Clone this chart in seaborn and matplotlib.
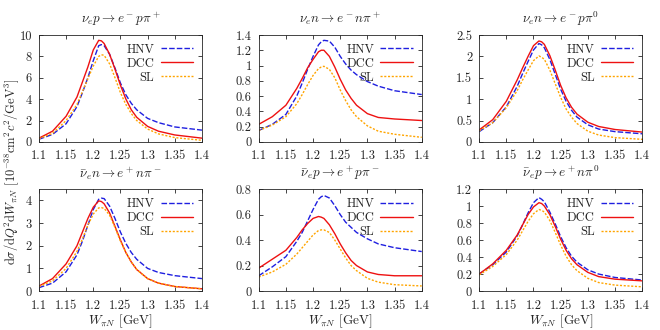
import numpy as np
import pandas as pd
import seaborn as sns
import matplotlib.pyplot as plt

W = [1.10, 1.125, 1.15, 1.17, 1.18, 1.19, 1.20, 1.21, 1.215, 1.22, 1.23, 1.24, 1.25, 1.26, 1.27, 1.28, 1.30, 1.32, 1.35, 1.40]

# nu_e p -> e- p pi+
dcc_1 = [0.35, 1.0, 2.4, 4.2, 5.6, 7.0, 8.6, 9.5, 9.45, 9.2, 8.2, 6.8, 5.3, 4.0, 3.0, 2.3, 1.45, 1.0, 0.65, 0.35]
hnv_1 = [0.25, 0.7, 1.7, 3.3, 4.6, 6.0, 7.6, 9.0, 9.1, 9.0, 8.2, 6.9, 5.5, 4.4, 3.6, 3.0, 2.2, 1.8, 1.4, 1.1]
sl_1 = [0.3, 0.8, 2.0, 3.5, 4.7, 5.9, 7.1, 8.0, 8.15, 8.1, 7.3, 6.0, 4.6, 3.5, 2.65, 2.0, 1.2, 0.75, 0.4, 0.15]
# nu_e n -> e- n pi+
dcc_2 = [0.23, 0.33, 0.48, 0.7, 0.83, 0.97, 1.08, 1.18, 1.2, 1.2, 1.12, 0.98, 0.82, 0.68, 0.57, 0.48, 0.37, 0.32, 0.3, 0.28]
hnv_2 = [0.15, 0.23, 0.36, 0.6, 0.77, 0.95, 1.12, 1.27, 1.31, 1.33, 1.32, 1.24, 1.12, 1.02, 0.94, 0.88, 0.79, 0.73, 0.67, 0.62]
sl_2 = [0.15, 0.22, 0.33, 0.5, 0.62, 0.75, 0.87, 0.96, 0.98, 0.99, 0.95, 0.84, 0.68, 0.54, 0.42, 0.33, 0.21, 0.14, 0.1, 0.06]
# nu_e n -> e- p pi0
dcc_3 = [0.28, 0.52, 0.95, 1.45, 1.73, 2.0, 2.25, 2.36, 2.34, 2.28, 2.02, 1.68, 1.32, 1.03, 0.81, 0.65, 0.46, 0.36, 0.29, 0.23]
hnv_3 = [0.24, 0.45, 0.82, 1.3, 1.6, 1.88, 2.15, 2.3, 2.27, 2.2, 1.93, 1.58, 1.23, 0.95, 0.74, 0.58, 0.4, 0.3, 0.24, 0.19]
sl_3 = [0.26, 0.45, 0.8, 1.2, 1.45, 1.68, 1.9, 2.01, 1.98, 1.93, 1.68, 1.36, 1.04, 0.77, 0.58, 0.43, 0.25, 0.16, 0.1, 0.06]
# anti-nu_e n -> e+ n pi-
dcc_4 = [0.22, 0.55, 1.2, 2.0, 2.6, 3.2, 3.7, 3.98, 3.95, 3.85, 3.45, 2.85, 2.25, 1.7, 1.28, 0.95, 0.55, 0.35, 0.2, 0.1]
hnv_4 = [0.15, 0.35, 0.85, 1.6, 2.2, 2.9, 3.6, 4.05, 4.1, 4.08, 3.75, 3.2, 2.6, 2.1, 1.7, 1.4, 1.0, 0.82, 0.68, 0.55]
sl_4 = [0.2, 0.45, 1.0, 1.75, 2.3, 2.9, 3.4, 3.67, 3.68, 3.65, 3.35, 2.8, 2.2, 1.7, 1.28, 0.95, 0.55, 0.35, 0.2, 0.1]
# anti-nu_e p -> e+ p pi-
dcc_5 = [0.18, 0.25, 0.32, 0.42, 0.48, 0.53, 0.57, 0.585, 0.58, 0.57, 0.52, 0.45, 0.37, 0.3, 0.24, 0.2, 0.15, 0.13, 0.12, 0.12]
hnv_5 = [0.12, 0.19, 0.27, 0.39, 0.46, 0.55, 0.64, 0.72, 0.74, 0.75, 0.73, 0.67, 0.6, 0.54, 0.5, 0.46, 0.41, 0.37, 0.34, 0.31]
sl_5 = [0.11, 0.15, 0.21, 0.29, 0.34, 0.39, 0.44, 0.475, 0.48, 0.48, 0.46, 0.4, 0.33, 0.26, 0.2, 0.16, 0.1, 0.07, 0.05, 0.04]
# anti-nu_e p -> e+ n pi0
dcc_6 = [0.2, 0.32, 0.48, 0.66, 0.78, 0.9, 0.99, 1.04, 1.03, 1.0, 0.9, 0.76, 0.61, 0.48, 0.38, 0.31, 0.22, 0.17, 0.14, 0.12]
hnv_6 = [0.2, 0.31, 0.46, 0.65, 0.78, 0.92, 1.04, 1.1, 1.08, 1.05, 0.93, 0.79, 0.64, 0.51, 0.41, 0.34, 0.25, 0.2, 0.16, 0.13]
sl_6 = [0.19, 0.29, 0.43, 0.6, 0.71, 0.82, 0.91, 0.96, 0.95, 0.93, 0.83, 0.69, 0.54, 0.41, 0.31, 0.24, 0.15, 0.1, 0.07, 0.05]

titles = [r"$\nu_e p \rightarrow e^- p\pi^+$", r"$\nu_e n \rightarrow e^- n\pi^+$", r"$\nu_e n \rightarrow e^- p\pi^0$",
          r"$\bar{\nu}_e n \rightarrow e^+ n\pi^-$", r"$\bar{\nu}_e p \rightarrow e^+ p\pi^-$", r"$\bar{\nu}_e p \rightarrow e^+ n\pi^0$"]
ylims = [10, 1.4, 2.5, 4.5, 0.8, 1.2]
ysteps = [2, 0.2, 0.5, 1, 0.2, 0.2]
panels = [(hnv_1, dcc_1, sl_1), (hnv_2, dcc_2, sl_2), (hnv_3, dcc_3, sl_3),
          (hnv_4, dcc_4, sl_4), (hnv_5, dcc_5, sl_5), (hnv_6, dcc_6, sl_6)]
models = ["HNV", "DCC", "SL"]

sns.set_style("ticks")
plt.rcParams['font.family'] = ['cmr10']
plt.rcParams['mathtext.fontset'] = 'cm'
plt.rcParams['axes.unicode_minus'] = False
plt.rcParams['xtick.direction'] = 'in'
plt.rcParams['ytick.direction'] = 'in'
plt.rcParams['xtick.top'] = True
plt.rcParams['ytick.right'] = True

colors = {"HNV": "#1f1fe0", "DCC": "#ee1111", "SL": "#ffa500"}
dashes = {"HNV": (4, 1.5), "DCC": "", "SL": (1.5, 1.2)}

fig = plt.figure(figsize=(6.6, 3.3), dpi=100)
lefts = [0.059, 0.392, 0.726]
rows = [(0.570, 0.324), (0.118, 0.309)]
for i, (vals, title) in enumerate(zip(panels, titles)):
    b, h = rows[i // 3]
    ax = fig.add_axes([lefts[i % 3], b, 0.247, h])
    df = pd.DataFrame({"W": W * 3, "y": vals[0] + vals[1] + vals[2],
                       "model": [m for m in models for _ in W]})
    sns.lineplot(data=df, x="W", y="y", hue="model", style="model", palette=colors,
                 dashes=dashes, linewidth=1.0, ax=ax)
    ax.set_xlim(1.1, 1.4)
    ax.set_ylim(0, ylims[i])
    ax.set_xticks([1.1, 1.15, 1.2, 1.25, 1.3, 1.35, 1.4])
    ax.set_xticklabels(["1.1", "1.15", "1.2", "1.25", "1.3", "1.35", "1.4"])
    yt = np.arange(0, ylims[i] + 1e-9, ysteps[i])
    ax.set_yticks(yt)
    ax.set_yticklabels([f"{v:g}" for v in yt])
    ax.tick_params(labelsize=9, length=3, width=0.6)
    ax.tick_params(axis="x", pad=6)
    ax.tick_params(axis="y", pad=5)
    for s in ax.spines.values():
        s.set_linewidth(0.6)
    ax.set_title(title, fontsize=9.5, pad=8.5)
    ax.set_xlabel(r"$W_{\pi N}$ [GeV]" if i >= 3 else "", fontsize=9.5, labelpad=1)
    ax.set_ylabel("")
    ax.legend(loc="upper right", frameon=False, markerfirst=False, fontsize=9,
              handlelength=2.6, handletextpad=0.5, labelspacing=0.15, borderaxespad=0.3)

fig.text(0.018, 0.479, r"d$\sigma$/d$Q^2$d$W_{\pi N}$ [$10^{-38}$cm$^2c^2$/GeV$^3$]",
         rotation=90, va="center", ha="center", fontsize=9)
fig.savefig("out.png", dpi=100)
